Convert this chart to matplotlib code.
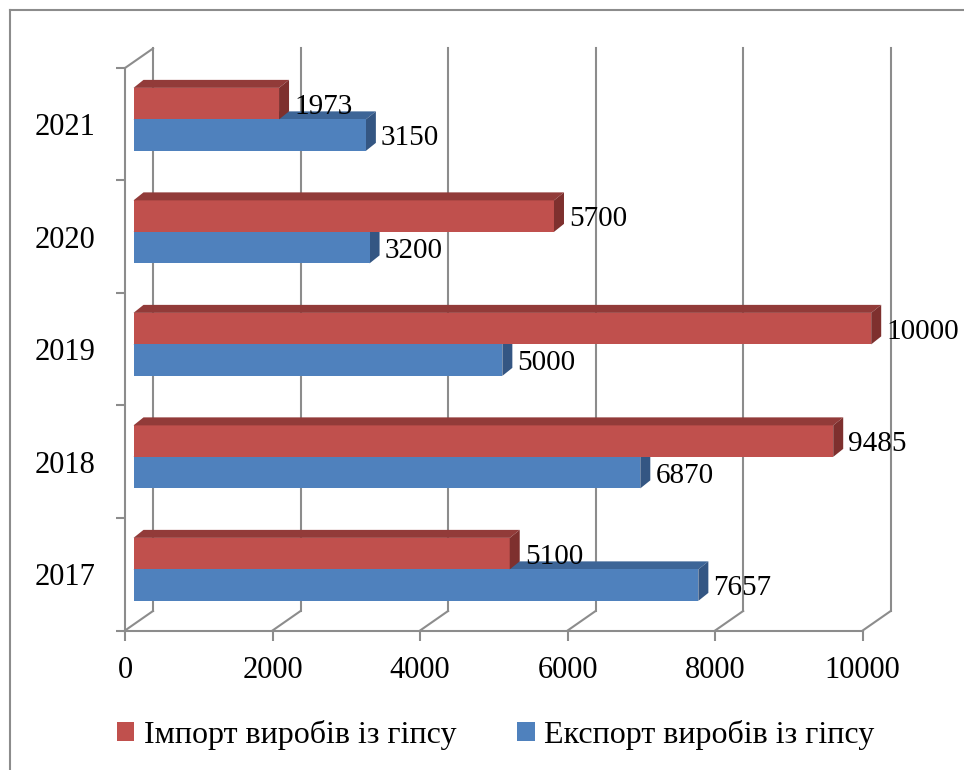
import matplotlib
matplotlib.use('Agg')
import matplotlib.pyplot as plt
from matplotlib.patches import Polygon, Patch
from matplotlib.lines import Line2D
import matplotlib.transforms as mtransforms

# ---- data ----
years = ['2017', '2018', '2019', '2020', '2021']
import_vals = [5100, 9485, 10000, 5700, 1973]
export_vals = [7657, 6870, 5000, 3200, 3150]
x_ticks = [0, 2000, 4000, 6000, 8000, 10000]
series_names = ['Імпорт виробів із гіпсу', 'Експорт виробів із гіпсу']

# ---- style ----
RED_FRONT, RED_TOP, RED_SIDE = '#C0504D', '#923B39', '#7E302E'
BLUE_FRONT, BLUE_TOP, BLUE_SIDE = '#4F81BD', '#3D6597', '#345683'
GRID = '#8C8C8C'

plt.rcParams['font.family'] = ['Liberation Serif', 'DejaVu Serif']

W, H = 964, 770
fig = plt.figure(figsize=(W / 100, H / 100), dpi=100)

left_px, right_px, bottom_px, top_px = 125, 862.7, 630.5, 68
ax = fig.add_axes([left_px / W, 1 - bottom_px / H,
                   (right_px - left_px) / W, (bottom_px - top_px) / H])
ax.set_xlim(0, 10000)
ax.set_ylim(0, len(years))
ax.patch.set_visible(False)
for side in ['top', 'right']:
    ax.spines[side].set_visible(False)
for side in ['left', 'bottom']:
    ax.spines[side].set_color(GRID)
    ax.spines[side].set_linewidth(1.5)


def px2data(dx, dy):
    p0 = ax.transData.transform((0, 0))
    p1 = ax.transData.transform((1, 1))
    return dx / (p1[0] - p0[0]), dy / (p1[1] - p0[1])


gx, gy = px2data(28, 19.5)     # back wall offset
bx, by = px2data(8.5, 6)       # bar plane offset
dx, dy = px2data(10, 8)        # bar depth

nc = len(years)
# back-wall gridlines and floor lines
for t in x_ticks:
    ax.add_line(Line2D([t + gx, t + gx], [gy, nc + gy], color=GRID, lw=1.5,
                       zorder=1, clip_on=False))
    ax.add_line(Line2D([t, t + gx], [0, gy], color=GRID, lw=1.5,
                       zorder=1, clip_on=False))
ax.add_line(Line2D([0, gx], [nc, nc + gy], color=GRID, lw=1.5, zorder=1,
                   clip_on=False))

# ticks
ax.set_xticks(x_ticks)
ax.set_xticklabels([str(t) for t in x_ticks])
ax.tick_params(axis='x', direction='out', length=7.2, width=1.5, color=GRID,
               labelsize=22, pad=11)
ax.set_yticks(range(nc + 1))
ax.set_yticklabels([])
ax.tick_params(axis='y', which='major', direction='out', length=6.5, width=1.5,
               color=GRID)
ax.set_yticks([i + 0.5 for i in range(nc)], minor=True)
ax.set_yticklabels(years, minor=True)
ax.tick_params(axis='y', which='minor', length=0, labelsize=22, pad=21)

bar_h = 0.28
blue_c = [i + by + 0.21 + bar_h / 2 for i in range(nc)]
red_c = [i + by + 0.21 + bar_h * 1.5 for i in range(nc)]


def faces(v, yc, top_c, side_c, z):
    x0, x1 = bx, bx + v
    yb, yt = yc - bar_h / 2, yc + bar_h / 2
    ax.add_patch(Polygon([(x0, yt), (x1, yt), (x1 + dx, yt + dy), (x0 + dx, yt + dy)],
                         closed=True, facecolor=top_c, edgecolor='none', zorder=z,
                         clip_on=False))
    ax.add_patch(Polygon([(x1, yb), (x1 + dx, yb + dy), (x1 + dx, yt + dy), (x1, yt)],
                         closed=True, facecolor=side_c, edgecolor='none', zorder=z,
                         clip_on=False))


for i in range(nc):
    faces(export_vals[i], blue_c[i], BLUE_TOP, BLUE_SIDE, 3)
ax.barh(blue_c, export_vals, height=bar_h, left=bx, color=BLUE_FRONT, zorder=4,
        clip_on=False)
ax.barh(red_c, import_vals, height=bar_h, left=bx, color=RED_FRONT, zorder=5,
        clip_on=False)
for i in range(nc):
    faces(import_vals[i], red_c[i], RED_TOP, RED_SIDE, 6)

lab_tr = ax.transData + mtransforms.ScaledTranslation(5 / 100, -10 / 100,
                                                       fig.dpi_scale_trans)
for i in range(nc):
    ax.text(bx + import_vals[i] + dx, red_c[i], str(import_vals[i]),
            transform=lab_tr, ha='left', va='baseline', fontsize=21, zorder=8)
    ax.text(bx + export_vals[i] + dx, blue_c[i], str(export_vals[i]),
            transform=lab_tr, ha='left', va='baseline', fontsize=21, zorder=8)

# legend
handles = [Patch(facecolor=RED_FRONT, label=series_names[0]),
           Patch(facecolor=BLUE_FRONT, label=series_names[1])]
fig.legend(handles=handles, loc='center', bbox_to_anchor=(0.514, 0.046),
           ncol=2, frameon=False, fontsize=23, handlelength=0.55,
           handleheight=0.55, handletextpad=0.3, columnspacing=1.9)

# outer chart border (top and left visible)
fig.add_artist(Line2D([10 / W, 10 / W], [0, 1 - 10 / H], transform=fig.transFigure,
                      color=GRID, lw=1.5))
fig.add_artist(Line2D([10 / W, 1], [1 - 10 / H, 1 - 10 / H], transform=fig.transFigure,
                      color=GRID, lw=1.5))

fig.savefig('out.png', dpi=100)
